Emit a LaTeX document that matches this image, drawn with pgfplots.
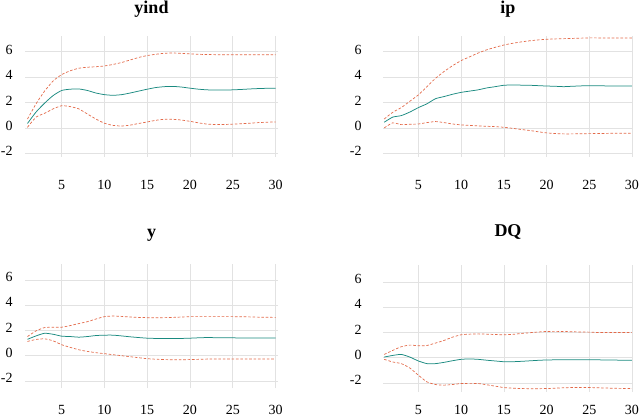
\documentclass[border=0pt]{standalone}
\usepackage{pgfplots}
\usepackage{pgfplotstable}
\pgfplotsset{compat=1.18}
\usepackage{fontspec}
\setmainfont{Liberation Serif}
\definecolor{medc}{HTML}{1A8A80}
\definecolor{bandc}{HTML}{E36A4A}
\definecolor{gridc}{HTML}{E2E2E2}

\pgfplotstableread{
x med lo hi
1 0.35 0.05 0.70
2 1.25 0.85 1.90
3 1.95 1.15 2.90
4 2.55 1.50 3.70
5 2.95 1.75 4.20
6 3.05 1.68 4.50
7 3.07 1.50 4.70
8 2.95 1.10 4.78
9 2.75 0.70 4.82
10 2.62 0.37 4.88
11 2.57 0.20 5.00
12 2.62 0.15 5.15
13 2.75 0.22 5.35
14 2.90 0.35 5.55
15 3.05 0.47 5.70
16 3.18 0.60 5.80
17 3.25 0.68 5.88
18 3.27 0.68 5.90
19 3.22 0.62 5.87
20 3.13 0.52 5.83
21 3.05 0.40 5.80
22 3.00 0.30 5.78
23 2.98 0.27 5.77
24 2.98 0.27 5.77
25 3.00 0.30 5.77
26 3.03 0.33 5.77
27 3.07 0.37 5.77
28 3.10 0.42 5.77
29 3.12 0.45 5.77
30 3.12 0.47 5.77
}\yind

\pgfplotstableread{
x med lo hi
1 0.45 0.00 0.70
2 0.85 0.40 1.23
3 0.97 0.26 1.60
4 1.25 0.29 2.10
5 1.60 0.31 2.60
6 1.90 0.42 3.25
7 2.30 0.50 3.90
8 2.47 0.42 4.44
9 2.65 0.31 4.90
10 2.80 0.24 5.30
11 2.90 0.20 5.60
12 3.00 0.16 5.90
13 3.15 0.13 6.15
14 3.25 0.10 6.35
15 3.36 0.05 6.53
16 3.38 -0.03 6.66
17 3.37 -0.12 6.77
18 3.36 -0.20 6.86
19 3.33 -0.30 6.93
20 3.30 -0.39 6.98
21 3.28 -0.44 7.01
22 3.25 -0.47 7.03
23 3.28 -0.47 7.05
24 3.31 -0.46 7.07
25 3.33 -0.45 7.09
26 3.32 -0.44 7.09
27 3.31 -0.43 7.09
28 3.31 -0.42 7.09
29 3.30 -0.42 7.09
30 3.30 -0.42 7.09
}\ip

\pgfplotstableread{
x med lo hi
1 1.30 1.13 1.52
2 1.57 1.29 1.97
3 1.78 1.34 2.23
4 1.70 1.18 2.26
5 1.55 0.87 2.26
6 1.52 0.66 2.39
7 1.47 0.47 2.55
8 1.52 0.34 2.70
9 1.60 0.24 2.91
10 1.63 0.16 3.10
11 1.63 0.08 3.15
12 1.57 0.00 3.12
13 1.50 -0.08 3.07
14 1.44 -0.16 3.04
15 1.39 -0.24 3.02
16 1.37 -0.28 3.02
17 1.36 -0.31 3.02
18 1.36 -0.32 3.04
19 1.37 -0.32 3.07
20 1.39 -0.31 3.10
21 1.42 -0.29 3.10
22 1.44 -0.27 3.10
23 1.43 -0.26 3.10
24 1.42 -0.26 3.10
25 1.42 -0.26 3.10
26 1.40 -0.26 3.09
27 1.40 -0.26 3.08
28 1.40 -0.26 3.06
29 1.40 -0.26 3.05
30 1.40 -0.26 3.04
}\ytab

\pgfplotstableread{
x med lo hi
1 0.05 -0.13 0.26
2 0.18 -0.34 0.58
3 0.26 -0.47 0.87
4 0.05 -0.82 1.00
5 -0.26 -1.39 0.95
6 -0.47 -1.92 0.97
7 -0.47 -2.13 1.16
8 -0.37 -2.18 1.37
9 -0.24 -2.13 1.63
10 -0.13 -2.05 1.82
11 -0.10 -2.04 1.87
12 -0.13 -2.05 1.89
13 -0.20 -2.15 1.87
14 -0.26 -2.26 1.84
15 -0.32 -2.37 1.82
16 -0.32 -2.42 1.85
17 -0.29 -2.45 1.92
18 -0.25 -2.46 1.98
19 -0.21 -2.46 2.04
20 -0.18 -2.45 2.08
21 -0.17 -2.42 2.09
22 -0.16 -2.39 2.08
23 -0.16 -2.37 2.06
24 -0.16 -2.37 2.04
25 -0.16 -2.37 2.03
26 -0.17 -2.39 2.00
27 -0.18 -2.41 2.00
28 -0.19 -2.43 2.00
29 -0.20 -2.44 2.00
30 -0.21 -2.45 2.00
}\dq

\pgfplotsset{
  irf/.style={
    scale only axis,
    anchor=south west,
    axis line style={draw=none},
    tick style={draw=none},
    major tick length=0pt,
    grid=major,
    major grid style={draw=gridc, line width=0.6pt},
    xtick={5,10,15,20,25,30},
    ytick={-2,0,2,4,6},
    /pgf/number format/assume math mode=true,
    tick label style={font=\fontsize{14}{16}\selectfont, inner sep=0pt},
    every axis title/.style={font=\fontsize{18}{20}\selectfont\bfseries, anchor=base, at={(0.5,1)}, inner sep=0pt},
    clip=false,
  },
  med/.style={draw=medc, line width=0.75pt, smooth, tension=0.35},
  band/.style={draw=bandc, line width=0.7pt, dash pattern=on 2.6pt off 1.8pt, smooth, tension=0.35},
}

\begin{document}
\begin{tikzpicture}
\useasboundingbox (0pt,0pt) rectangle (641pt,416pt);

% top left: yind
\begin{axis}[irf, at={(25pt,259pt)}, width=253pt, height=121pt,
  xmin=0.71, xmax=30.29, ymin=-2.29, ymax=7.24,
  title={yind}, title style={yshift=22.5pt},
  xticklabel style={anchor=base, yshift=-32.3pt},
  yticklabel style={anchor=east, xshift=-12.3pt, yshift=2pt}]
\addplot[band] table[x=x, y=hi] {\yind};
\addplot[band] table[x=x, y=lo] {\yind};
\addplot[med] table[x=x, y=med] {\yind};
\end{axis}

% top right: ip
\begin{axis}[irf, at={(383pt,259pt)}, width=250pt, height=121pt,
  xmin=0.86, xmax=30.12, ymin=-2.29, ymax=7.24,
  title={ip}, title style={yshift=22.5pt},
  xticklabel style={anchor=base, yshift=-32.3pt},
  yticklabel style={anchor=east, xshift=-21.3pt, yshift=2pt}]
\addplot[band] table[x=x, y=hi] {\ip};
\addplot[band] table[x=x, y=lo] {\ip};
\addplot[med] table[x=x, y=med] {\ip};
\end{axis}

% bottom left: y
\begin{axis}[irf, at={(25pt,27.7pt)}, width=253pt, height=124.3pt,
  xmin=0.71, xmax=30.29, ymin=-2.59, ymax=7.28,
  title={y}, title style={yshift=27pt},
  xticklabel style={anchor=base, yshift=-25.7pt},
  yticklabel style={anchor=east, xshift=-12.3pt, yshift=3pt}]
\addplot[band] table[x=x, y=hi] {\ytab};
\addplot[band] table[x=x, y=lo] {\ytab};
\addplot[med] table[x=x, y=med] {\ytab};
\end{axis}

% bottom right: DQ
\begin{axis}[irf, at={(383pt,24.3pt)}, width=250pt, height=126.7pt,
  xmin=0.86, xmax=30.12, ymin=-2.7, ymax=7.36,
  title={DQ}, title style={yshift=28pt},
  xticklabel style={anchor=base, yshift=-22.3pt},
  yticklabel style={anchor=east, xshift=-21.3pt, yshift=3pt}]
\addplot[band] table[x=x, y=hi] {\dq};
\addplot[band] table[x=x, y=lo] {\dq};
\addplot[med] table[x=x, y=med] {\dq};
\end{axis}
\end{tikzpicture}
\end{document}
